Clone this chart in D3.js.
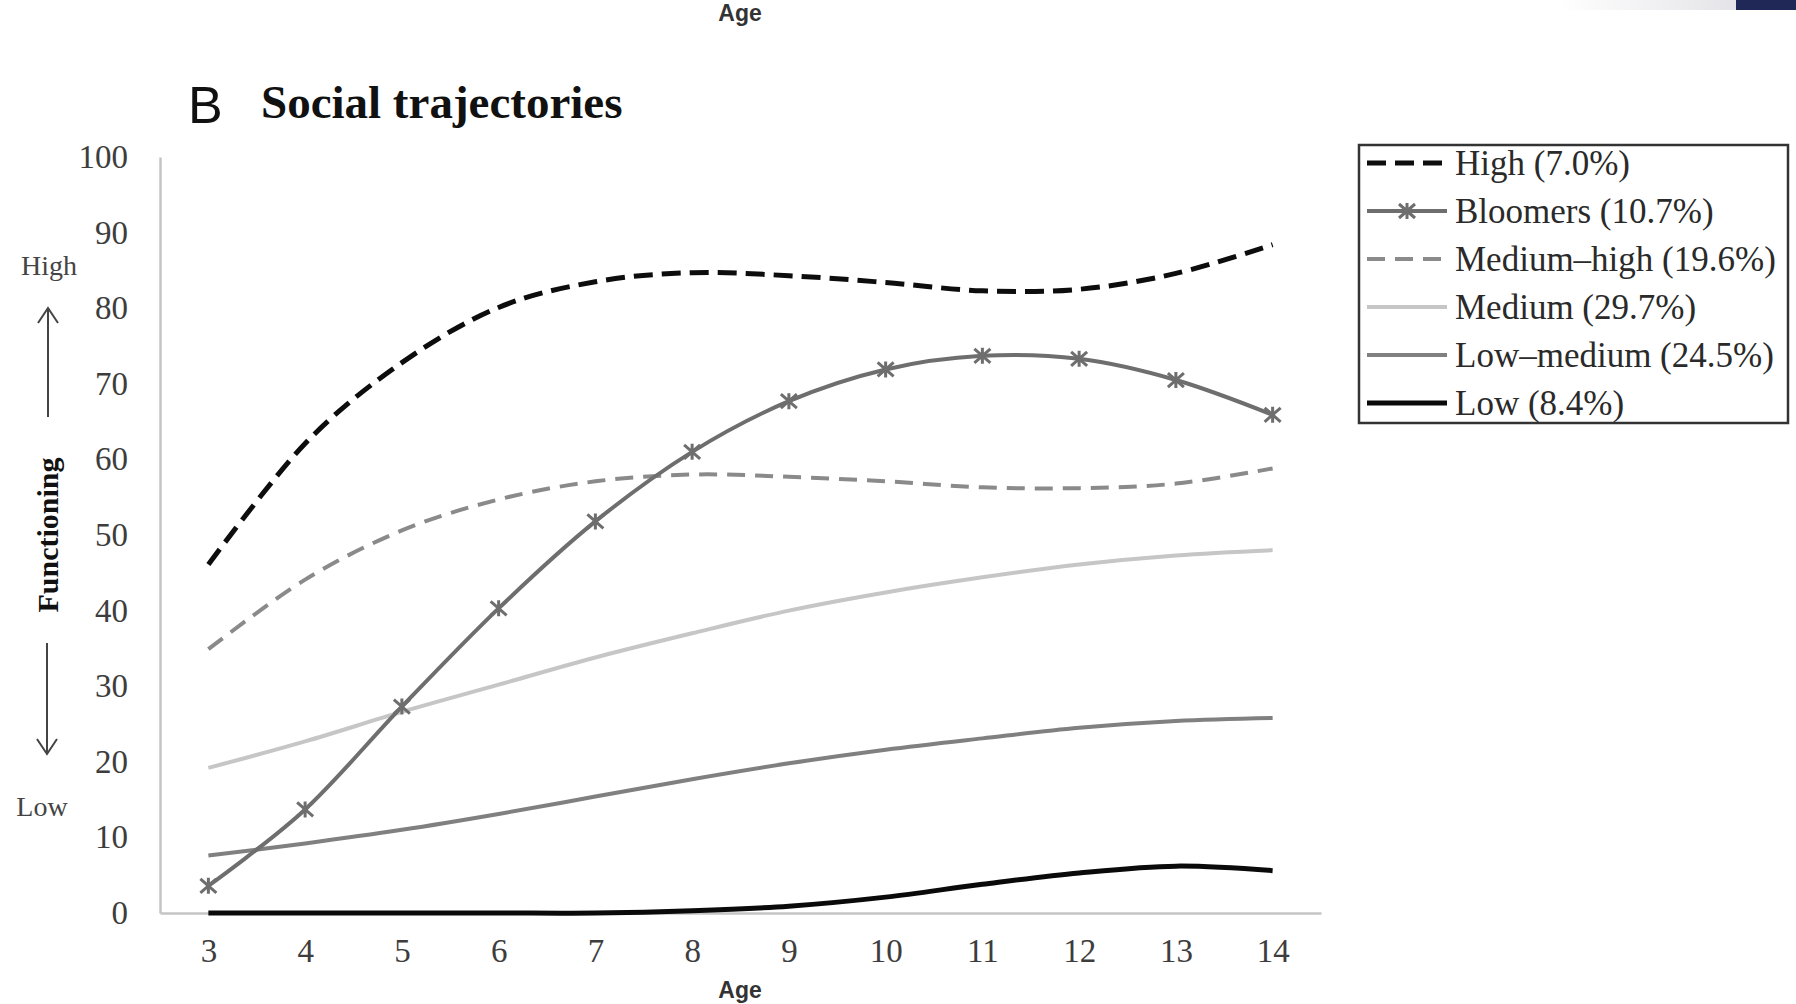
<!DOCTYPE html>
<html>
<head>
<meta charset="utf-8">
<script src="https://cdn.jsdelivr.net/npm/d3@7"></script>
<style>
  body { margin: 0; background: #fff; }
  svg { display: block; }
</style>
</head>
<body>
<svg id="chart" width="1796" height="1004"></svg>
<script>
// ages on the x axis
var ages = [3, 4, 5, 6, 7, 8, 9, 10, 11, 12, 13, 14];

// functioning per trajectory group
var high       = [46.1, 62.1, 72.8, 80.1, 83.5, 84.7, 84.3, 83.4, 82.3, 82.5, 84.6, 88.4];
var bloomers   = [3.6, 13.7, 27.3, 40.3, 51.8, 61.0, 67.7, 71.9, 73.7, 73.3, 70.5, 65.9];
var mediumHigh = [34.9, 44.1, 50.6, 54.7, 57.1, 58.0, 57.7, 57.1, 56.3, 56.2, 56.8, 58.8];
var medium     = [19.2, 22.7, 26.6, 30.2, 33.8, 37.0, 40.0, 42.4, 44.4, 46.1, 47.3, 48.0];
var lowMedium  = [7.6, 9.2, 11.0, 13.1, 15.4, 17.7, 19.8, 21.6, 23.1, 24.5, 25.4, 25.8];
var low        = [0.0, 0.0, 0.0, 0.0, 0.0, 0.3, 0.9, 2.1, 3.8, 5.3, 6.2, 5.6];

var yTicks = [0, 10, 20, 30, 40, 50, 60, 70, 80, 90, 100];
var legendLabels = ['High (7.0%)', 'Bloomers (10.7%)', 'Medium\u2013high (19.6%)',
                    'Medium (29.7%)', 'Low\u2013medium (24.5%)', 'Low (8.4%)'];

// drawing styles, same order as the legend
var styles = [
    { color: '#0d0d0d', width: 5, dash: '19,9', marker: false },
    { color: '#6e6e6e', width: 4, dash: null, marker: true },
    { color: '#8a8a8a', width: 4, dash: '18,10', marker: false },
    { color: '#c6c6c6', width: 4, dash: null, marker: false },
    { color: '#808080', width: 4, dash: null, marker: false },
    { color: '#0a0a0a', width: 5, dash: null, marker: false }
];
var seriesValues = [high, bloomers, mediumHigh, medium, lowMedium, low];

function drawChart() {
    var serif = "'Liberation Serif', 'Times New Roman', serif";
    var narrow = "'Liberation Sans Narrow', 'Liberation Sans', sans-serif";
    var svg = d3.select('#chart');

    // plot area
    var plotLeft = 160, plotRight = 1321, plotTop = 157, plotBottom = 913;

    var x = d3.scalePoint()
        .domain(ages)
        .range([plotLeft, plotRight])
        .padding(0.5);

    var y = d3.scaleLinear()
        .domain([0, 100])
        .range([plotBottom, plotTop]);

    // corner decoration of the slide, top right
    var grad = svg.append('defs').append('linearGradient')
        .attr('id', 'fade');
    grad.append('stop').attr('offset', '0%').attr('stop-color', '#ffffff');
    grad.append('stop').attr('offset', '100%').attr('stop-color', '#e4e4e8');
    svg.append('rect').attr('x', 1560).attr('y', 0).attr('width', 176).attr('height', 10)
        .attr('fill', 'url(#fade)');
    svg.append('rect').attr('x', 1736).attr('y', 0).attr('width', 60).attr('height', 10)
        .attr('fill', '#1f2857');

    // axis title of the panel above, cut by the top edge
    svg.append('text')
        .attr('x', 740).attr('y', 21)
        .attr('text-anchor', 'middle')
        .style('font-family', narrow)
        .style('font-weight', 'bold')
        .style('font-size', '23px')
        .style('fill', '#333')
        .text('Age');

    // panel title
    svg.append('text')
        .attr('x', 188).attr('y', 123)
        .style('font-family', "'Liberation Sans', Arial, sans-serif")
        .style('font-size', '52px')
        .style('fill', '#111')
        .text('B');

    svg.append('text')
        .attr('x', 261).attr('y', 118)
        .style('font-family', serif)
        .style('font-weight', 'bold')
        .style('font-size', '47px')
        .style('fill', '#111')
        .text('Social trajectories');

    // axes
    var axisColor = '#c4c4c4';
    var yAxis = svg.append('g')
        .attr('transform', 'translate(' + plotLeft + ',0)')
        .call(d3.axisLeft(y).tickValues(yTicks).tickSize(0).tickPadding(32));
    var xAxis = svg.append('g')
        .attr('transform', 'translate(0,' + plotBottom + ')')
        .call(d3.axisBottom(x).tickSize(0).tickPadding(26));

    [yAxis, xAxis].forEach(function(ax) {
        ax.select('.domain').attr('stroke', axisColor).attr('stroke-width', 2.5);
        ax.selectAll('text')
          .style('font-family', serif)
          .style('font-size', '33px')
          .style('fill', '#3d3d3d');
    });

    // x axis title
    svg.append('text')
        .attr('x', 740).attr('y', 998)
        .attr('text-anchor', 'middle')
        .style('font-family', narrow)
        .style('font-weight', 'bold')
        .style('font-size', '23px')
        .style('fill', '#333')
        .text('Age');

    // y axis title with high / low hints and arrows
    svg.append('text')
        .attr('transform', 'translate(58,535) rotate(-90)')
        .attr('text-anchor', 'middle')
        .style('font-family', serif)
        .style('font-weight', 'bold')
        .style('font-size', '30px')
        .style('fill', '#111')
        .text('Functioning');

    svg.append('text')
        .attr('x', 49).attr('y', 275)
        .attr('text-anchor', 'middle')
        .style('font-family', serif)
        .style('font-size', '28px')
        .style('fill', '#444')
        .text('High');

    svg.append('text')
        .attr('x', 42).attr('y', 816)
        .attr('text-anchor', 'middle')
        .style('font-family', serif)
        .style('font-size', '28px')
        .style('fill', '#444')
        .text('Low');

    var arrow = svg.append('g')
        .attr('stroke', '#444')
        .attr('stroke-width', 2)
        .attr('fill', 'none');
    arrow.append('path').attr('d', 'M48,417 V308 M38,323 L48,308 L58,323');
    arrow.append('path').attr('d', 'M47,643 V754 M37,739 L47,754 L57,739');

    // trajectory lines
    var line = d3.line()
        .x(function(d) { return x(d.age); })
        .y(function(d) { return y(d.value); })
        .curve(d3.curveCardinal.tension(0));

    var series = seriesValues.map(function(vals, i) {
        return {
            name: legendLabels[i],
            style: styles[i],
            points: ages.map(function(a, j) { return { age: a, value: vals[j] }; })
        };
    });

    var starPath = 'M-8,-7 L8,7 M-8,7 L8,-7 M0,-8 V8';

    // draw back to front so that the black lines stay on top
    var drawOrder = [3, 4, 2, 1, 0, 5];
    drawOrder.forEach(function(i) {
        var s = series[i];
        svg.append('path')
            .datum(s.points)
            .attr('d', line)
            .attr('fill', 'none')
            .attr('stroke', s.style.color)
            .attr('stroke-width', s.style.width)
            .attr('stroke-dasharray', s.style.dash)
            .attr('stroke-linecap', 'butt');

        if (s.style.marker) {
            svg.append('g').selectAll('path')
                .data(s.points)
                .join('path')
                .attr('transform', function(d) {
                    return 'translate(' + x(d.age) + ',' + y(d.value) + ')';
                })
                .attr('d', starPath)
                .attr('stroke', s.style.color)
                .attr('stroke-width', 3)
                .attr('fill', 'none');
        }
    });

    // legend
    var legend = svg.append('g');
    legend.append('rect')
        .attr('x', 1359).attr('y', 145)
        .attr('width', 429).attr('height', 278)
        .attr('fill', '#fff')
        .attr('stroke', '#333')
        .attr('stroke-width', 2.5);

    var rowY = d3.scaleLinear().domain([0, 5]).range([163, 403]);

    series.forEach(function(s, i) {
        var ly = rowY(i);
        legend.append('line')
            .attr('x1', 1367).attr('x2', 1447)
            .attr('y1', ly).attr('y2', ly)
            .attr('stroke', s.style.color)
            .attr('stroke-width', s.style.width)
            .attr('stroke-dasharray', s.style.dash);
        if (s.style.marker) {
            legend.append('path')
                .attr('transform', 'translate(1407,' + ly + ')')
                .attr('d', starPath)
                .attr('stroke', s.style.color)
                .attr('stroke-width', 3);
        }
        legend.append('text')
            .attr('x', 1455).attr('y', ly)
            .attr('dy', '0.35em')
            .style('font-family', serif)
            .style('font-size', '35px')
            .style('fill', '#2a2a2a')
            .text(s.name);
    });
}

drawChart();
</script>
</body>
</html>
